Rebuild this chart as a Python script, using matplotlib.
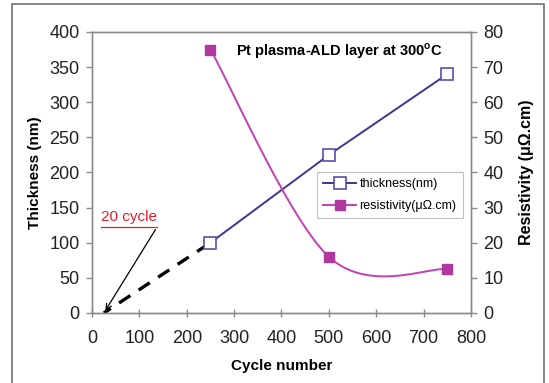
import numpy as np
import matplotlib
matplotlib.use("Agg")
import matplotlib.pyplot as plt
from matplotlib.patches import Rectangle

plt.rcParams['font.family'] = ['Liberation Sans', 'DejaVu Sans']

# data
cycles = [250, 500, 750]
thickness = [100, 225, 340]
resistivity = [75, 16, 12.5]
# extrapolated start of the growth (20 cycle incubation)
extrap_cycles = [25, 250]
extrap_thick = [0, 100]

x_ticks = [0, 100, 200, 300, 400, 500, 600, 700, 800]
y_ticks = [0, 50, 100, 150, 200, 250, 300, 350, 400]
y2_ticks = [0, 10, 20, 30, 40, 50, 60, 70, 80]

blue = '#3f3399'
magenta = '#c43fb4'


def excel_smooth(x, y, xr, yr, n=60):
    # Excel-like smoothed line: cubic bezier through points, tension 1/6
    p = np.column_stack((np.array(x) / xr, np.array(y) / yr))
    out = []
    for i in range(len(p) - 1):
        p_prev = p[i - 1] if i > 0 else p[i]
        p_next = p[i + 2] if i + 2 < len(p) else p[i + 1]
        c1 = p[i] + (p[i + 1] - p_prev) / 6
        c2 = p[i + 1] - (p_next - p[i]) / 6
        t = np.linspace(0, 1, n)[:, None]
        seg = ((1 - t) ** 3 * p[i] + 3 * (1 - t) ** 2 * t * c1
               + 3 * (1 - t) * t ** 2 * c2 + t ** 3 * p[i + 1])
        out.append(seg)
    out = np.vstack(out)
    return out[:, 0] * xr, out[:, 1] * yr


fig = plt.figure(figsize=(5.49, 3.83), dpi=100)
fig.patches.append(Rectangle((12 / 549, -0.05), 532 / 549, 1.04, transform=fig.transFigure,
                             fill=False, edgecolor='#707070', lw=1.2))

ax = fig.add_axes([0.1676, 0.1828, 0.6903, 0.7337])
ax2 = ax.twinx()

ax.plot(extrap_cycles, extrap_thick, color='black', lw=2.4, ls=(1.5, (4, 3)))
ax.plot(cycles, thickness, color=blue, lw=1.4, marker='s', ms=8,
        mfc='white', mec='#5b4db0', mew=1.2, label='thickness(nm)', zorder=3)

sx, sy = excel_smooth(cycles, resistivity, 800, 80)
ax2.plot(sx, sy, color=magenta, lw=1.4)
ax2.plot(cycles, resistivity, ls='none', marker='s', ms=7.5,
         color='#b0389f', mec='#b0389f')
line_r, = ax2.plot([], [], color=magenta, lw=1.4, marker='s', ms=7,
                   mfc='#b0389f', mec='#b0389f', label='resistivity(μΩ.cm)')

ax.set_xlim(0, 800)
ax.set_ylim(0, 400)
ax2.set_ylim(0, 80)
ax.set_xticks(x_ticks)
ax.set_yticks(y_ticks)
ax2.set_yticks(y2_ticks)

for a in (ax, ax2):
    for s in a.spines.values():
        s.set_color('#8a8a8a')
        s.set_linewidth(1.0)
    a.tick_params(labelsize=13, color='#8a8a8a', labelcolor='#222222', length=4, width=1)
ax.tick_params(axis='x', pad=9, direction='inout', length=6)
ax.tick_params(axis='y', pad=5)
ax2.tick_params(axis='y', pad=5)

ax.set_xlabel('Cycle number', fontsize=11, fontweight='bold', labelpad=9)
ax.set_ylabel('Thickness (nm)', fontsize=11, fontweight='bold', labelpad=5)
ax2.set_ylabel('Resistivity (μΩ.cm)', fontsize=11.5, fontweight='bold', labelpad=11)

ax.text(0.652, 0.932, 'Pt plasma-ALD layer at 300$^{\\mathregular{o}}$C', transform=ax.transAxes,
        ha='center', va='center', fontsize=10.5, fontweight='bold')

# 20 cycle annotation
ax.annotate('', xy=(25, 0), xytext=(137, 122),
            arrowprops=dict(arrowstyle='->', color='black', lw=0.9))
ax.text(19, 126, '20 cycle', color='#e0202a', fontsize=11, ha='left', va='bottom')
ax.plot([19, 137], [122, 122], color='#e0202a', lw=0.9)

h1, l1 = ax.get_legend_handles_labels()
leg = ax.legend(h1 + [line_r], l1 + [line_r.get_label()],
                loc='upper left', bbox_to_anchor=(0.594, 0.502), borderaxespad=0,
                fontsize=9, frameon=True, fancybox=False, handlelength=2.6,
                borderpad=0.5, labelspacing=0.8, handletextpad=0.3)
leg.get_frame().set_edgecolor('#b0b0b0')
leg.get_frame().set_linewidth(0.8)

fig.savefig('out.png', dpi=100)
